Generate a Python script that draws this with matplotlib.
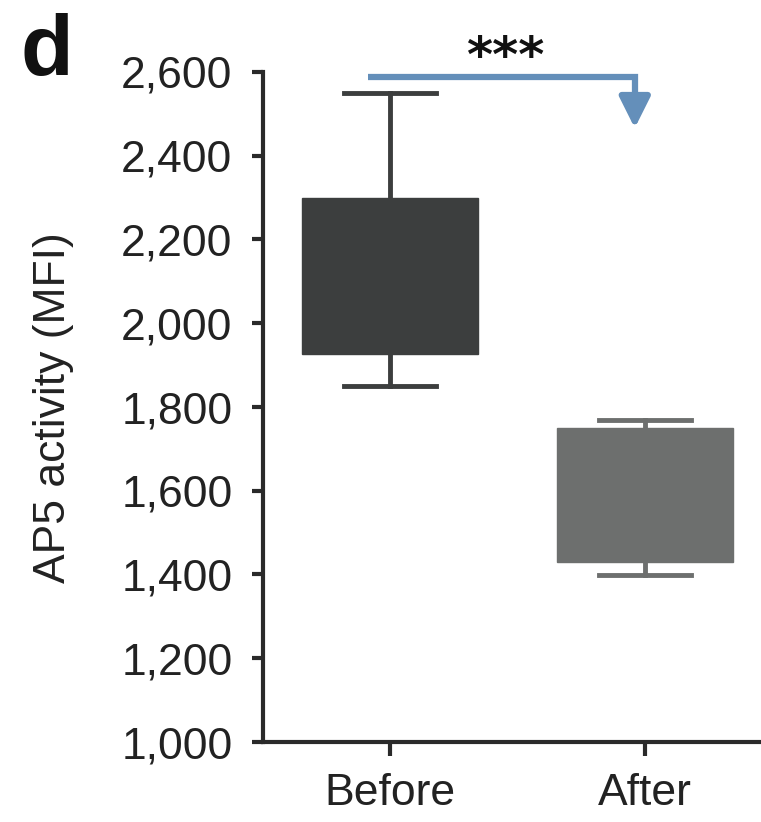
import matplotlib
matplotlib.use("Agg")
import matplotlib.pyplot as plt

# ---- data ----
categories = ["Before", "After"]
q1 = [1927, 1430]
q3 = [2299, 1750]
whislo = [1850, 1398]
whishi = [2550, 1768]
box_colors = ["#3c3e3e", "#6d6f6e"]
yticks = [1000, 1200, 1400, 1600, 1800, 2000, 2200, 2400, 2600]
ytick_labels = ["1,000", "1,200", "1,400", "1,600", "1,800", "2,000", "2,200", "2,400", "2,600"]
ylabel = "AP5 activity (MFI)"
signif = "***"

plt.rcParams['font.family'] = ['Liberation Sans', 'DejaVu Sans']

fig = plt.figure(figsize=(7.61, 8.22), dpi=100)
ax = fig.add_axes([263/761, 1-742/822, 498/761, (742-72)/822])

positions = [1, 2]
for i, cat in enumerate(categories):
    stats = [dict(label=cat, q1=q1[i], q3=q3[i], med=q1[i],
                  whislo=whislo[i], whishi=whishi[i], fliers=[])]
    c = box_colors[i]
    ax.bxp(stats, positions=[positions[i]], widths=0.69, capwidths=0.36,
           patch_artist=True, showfliers=False,
           boxprops=dict(facecolor=c, edgecolor=c, linewidth=1),
           whiskerprops=dict(color=c, linewidth=3.5),
           capprops=dict(color=c, linewidth=3.5),
           medianprops=dict(visible=False),
           manage_ticks=False, zorder=2)

ax.set_xlim(0.502, 2.455)
ax.set_ylim(1000, 2600)
ax.set_xticks(positions)
ax.set_xticklabels(categories)
ax.set_yticks(yticks)
ax.set_yticklabels(ytick_labels)

for s in ["top", "right"]:
    ax.spines[s].set_visible(False)
for s in ["left", "bottom"]:
    ax.spines[s].set_linewidth(3)
    ax.spines[s].set_color("#2a2a2a")
ax.spines["left"].set_bounds(1000, 2600)

ax.tick_params(axis="y", length=8, width=3, color="#2a2a2a", labelsize=32, pad=14,
               labelcolor="#222222")
ax.tick_params(axis="x", length=10, width=3, color="#2a2a2a", labelsize=32, pad=12,
               labelcolor="#222222")

# significance arrow
arrow_c = "#648fba"
ax.plot([0.914, 1.96, 1.96], [2588, 2588, 2510], color=arrow_c, lw=4.5,
        solid_joinstyle="miter", solid_capstyle="butt", clip_on=False, zorder=3)
ax.annotate("", xy=(1.96, 2466), xytext=(1.96, 2512),
            arrowprops=dict(arrowstyle="-|>", lw=4.5, color=arrow_c,
                            mutation_scale=47, shrinkA=0, shrinkB=0),
            annotation_clip=False, zorder=3)
ax.text(1.45, 2600, signif, ha="center", va="baseline", fontsize=36,
        fontweight="bold", family=["DejaVu Sans"], color="#111111", clip_on=False)

# y label and panel letter
fig.text(54/761, 1-408/822, ylabel, rotation=90, ha="center", va="center",
         fontsize=32, color="#222222")
fig.text(20/761, 1-75/822, "d", ha="left", va="baseline", fontsize=62,
         fontweight="bold", color="#111111")

fig.savefig("out.png", dpi=100)
